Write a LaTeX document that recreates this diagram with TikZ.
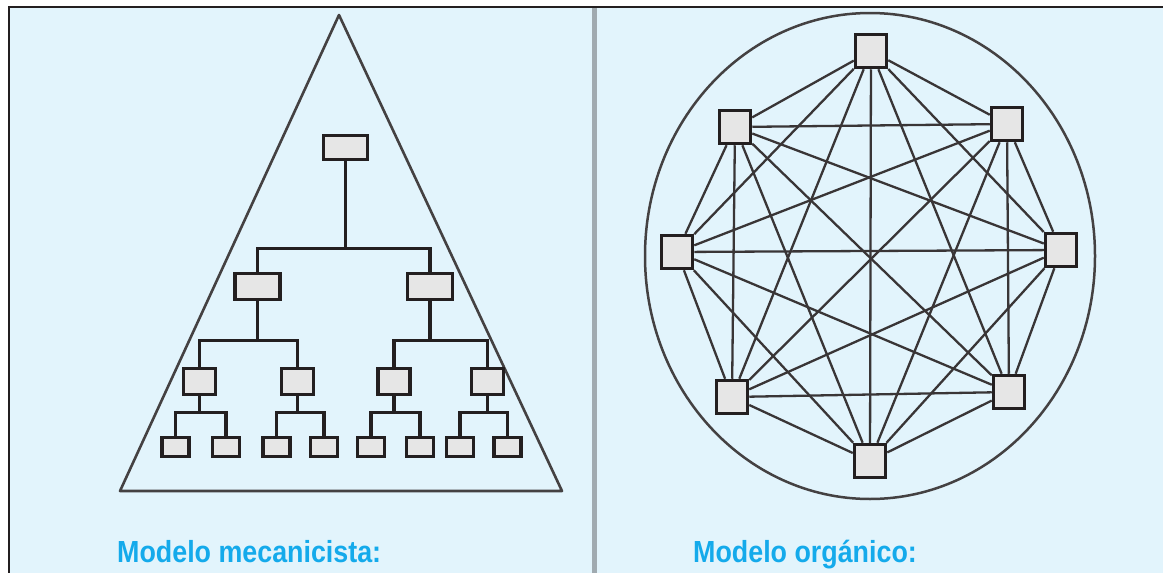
\documentclass[tikz,border=0pt]{standalone}
\usepackage{fontspec}
\usepackage{tikz}
\usetikzlibrary{positioning}
\newfontfamily\labelfont[FakeStretch=0.88]{Liberation Sans}
\definecolor{paleblue}{RGB}{226,244,252}
\definecolor{inkblack}{RGB}{35,31,32}
\definecolor{boxgray}{RGB}{230,230,230}
\definecolor{titleblue}{RGB}{20,170,235}
\definecolor{rulegray}{RGB}{160,170,176}

\begin{document}
\begin{tikzpicture}[x=1pt, y=-1pt, box/.style={draw=inkblack,line width=3.5pt,fill=boxgray,inner sep=0pt}, boss/.style={box,minimum width=44pt,minimum height=24pt}, chief/.style={box,minimum width=45pt,minimum height=26pt}, lead/.style={box,minimum width=32pt,minimum height=26pt}, leaf/.style={box,minimum width=27pt,minimum height=19pt}, member/.style={box,minimum width=31pt,minimum height=33pt}, fork/.style={to path={(\tikztostart.south) -- ++(0,#1) -| (\tikztotarget.north)}}, link/.style={draw=inkblack!90,line width=2.3pt}, title/.style={anchor=base west,text=titleblue,font=\labelfont\bfseries\fontsize{30.5}{36}\selectfont,inner sep=0pt}]
        \useasboundingbox (0,0) rectangle (1163,573);
        \fill[white] (0,0) rectangle (1163,573);
        \fill[paleblue] (9,7) rectangle (1163,573);
        \draw[inkblack,line width=2.5pt] (9,573) -- (9,7) -- (1163,7);
        \draw[rulegray,line width=5pt] (594,8) -- (594,573);

        % mecanicista
        \draw[inkblack!85,line width=2.6pt,line join=round] (339,15) -- (562,491) -- (120,491) -- cycle;
                \node[boss]     (t_0)  at (345.5,147.5)  {};
                \node[chief]    (t_1)  at (257.5,286.5)  {};
                \node[chief]    (t_2)  at (430,286.5)    {};
                \node[lead]     (t_3)  at (199.5,381.5)  {};
                \node[lead]     (t_4)  at (297.5,381.5)  {};
                \node[lead]     (t_5)  at (394,381.5)    {};
                \node[lead]     (t_6)  at (487.5,381.5)  {};
                \node[leaf]     (t_7)  at (175.5,447)    {};
                \node[leaf]     (t_8)  at (226,447)      {};
                \node[leaf]     (t_9)  at (276.5,447)    {};
                \node[leaf]     (t_10) at (324,447)      {};
                \node[leaf]     (t_11) at (371,447)      {};
                \node[leaf]     (t_12) at (420,447)      {};
                \node[leaf]     (t_13) at (460,447)      {};
                \node[leaf]     (t_14) at (507.5,447)    {};

            \path[draw=inkblack,line width=3.3pt]
                        (t_0) edge[fork=87] (t_1)
                        (t_0) edge[fork=87] (t_2)
                        (t_1) edge[fork=39] (t_3)
                        (t_1) edge[fork=39] (t_4)
                        (t_2) edge[fork=39] (t_5)
                        (t_2) edge[fork=39] (t_6)
                        (t_3) edge[fork=16] (t_7)
                        (t_3) edge[fork=16] (t_8)
                        (t_4) edge[fork=16] (t_9)
                        (t_4) edge[fork=16] (t_10)
                        (t_5) edge[fork=16] (t_11)
                        (t_5) edge[fork=16] (t_12)
                        (t_6) edge[fork=16] (t_13)
                        (t_6) edge[fork=16] (t_14);

        \node[title] (mech) at (117,562) {Modelo mecanicista:};

        % organico
        \draw[inkblack!85,line width=2.5pt] (870,256) ellipse [x radius=225, y radius=243];
                \node[member]   (n_0) at (871,51)   {};
                \node[member]   (n_1) at (1007,124) {};
                \node[member]   (n_2) at (1061,250) {};
                \node[member]   (n_3) at (1009,392) {};
                \node[member]   (n_4) at (870,461)  {};
                \node[member]   (n_5) at (732,397)  {};
                \node[member]   (n_6) at (677,252)  {};
                \node[member]   (n_7) at (735,127)  {};

            \path[link] (n_0) edge (n_1)
                        (n_0) edge (n_2)
                        (n_0) edge (n_3)
                        (n_0) edge (n_4)
                        (n_0) edge (n_5)
                        (n_0) edge (n_6)
                        (n_0) edge (n_7)
                        (n_1) edge (n_2)
                        (n_1) edge (n_3)
                        (n_1) edge (n_4)
                        (n_1) edge (n_5)
                        (n_1) edge (n_6)
                        (n_1) edge (n_7)
                        (n_2) edge (n_3)
                        (n_2) edge (n_4)
                        (n_2) edge (n_5)
                        (n_2) edge (n_6)
                        (n_2) edge (n_7)
                        (n_3) edge (n_4)
                        (n_3) edge (n_5)
                        (n_3) edge (n_6)
                        (n_3) edge (n_7)
                        (n_4) edge (n_5)
                        (n_4) edge (n_6)
                        (n_4) edge (n_7)
                        (n_5) edge (n_6)
                        (n_5) edge (n_7)
                        (n_6) edge (n_7);

        \node[title] (org) at (693,562) {Modelo orgánico:};
\end{tikzpicture}
\end{document}
